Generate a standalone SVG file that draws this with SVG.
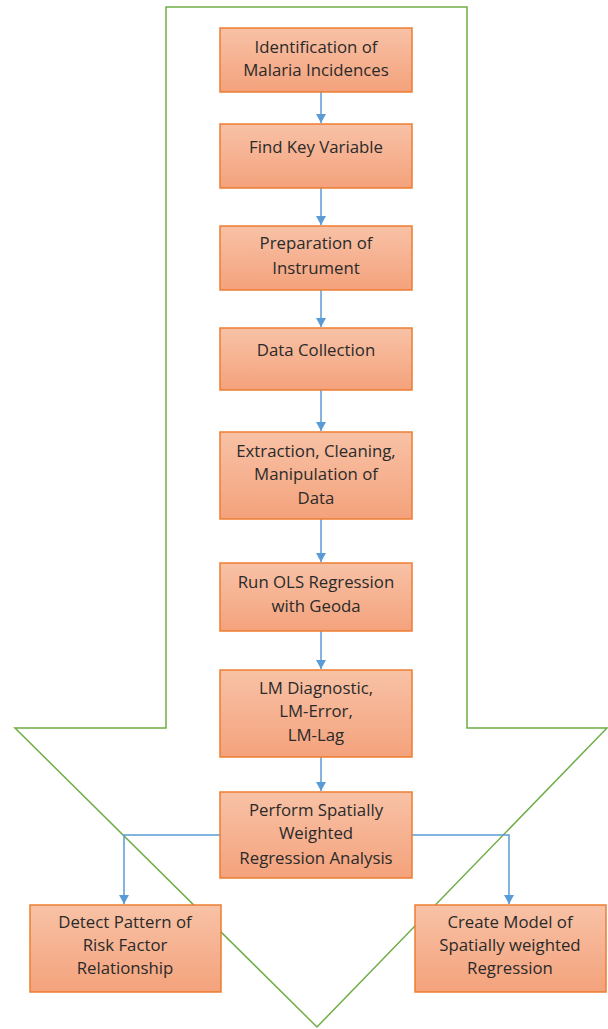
<svg xmlns="http://www.w3.org/2000/svg" width="608" height="1029" viewBox="0 0 608 1029">
<style>
.box{fill:url(#g);stroke:#ed7d31;stroke-width:1.5}
.t{font-family:"Open Sans","Liberation Sans",sans-serif;font-size:16.8px;fill:#2a2a2a;text-anchor:middle}
.c{fill:none;stroke:#5b9bd5;stroke-width:1.5}
</style>
<defs>
<linearGradient id="g" x1="0" y1="0" x2="0" y2="1">
<stop offset="0" stop-color="#f8c2a6"/>
<stop offset="1" stop-color="#f4a27c"/>
</linearGradient>
<marker id="m" markerWidth="10" markerHeight="9" refX="5" refY="9" orient="0" markerUnits="userSpaceOnUse">
<path d="M0,0 L10,0 L5,9 Z" fill="#5b9bd5"/>
</marker>
</defs>
<polygon id="bigarrow" points="166,7 467,7 467,728 607,728 317,1027 15,728 166,728" fill="none" stroke="#70ad47" stroke-width="1.5"/>
<g id="connectors">
<line class="c" x1="321" y1="92" x2="321" y2="123" marker-end="url(#m)"/>
<line class="c" x1="321" y1="188" x2="321" y2="225" marker-end="url(#m)"/>
<line class="c" x1="321" y1="290" x2="321" y2="327" marker-end="url(#m)"/>
<line class="c" x1="321" y1="390" x2="321" y2="431" marker-end="url(#m)"/>
<line class="c" x1="321" y1="519" x2="321" y2="562" marker-end="url(#m)"/>
<line class="c" x1="321" y1="631" x2="321" y2="669" marker-end="url(#m)"/>
<line class="c" x1="321" y1="757" x2="321" y2="791" marker-end="url(#m)"/>
<polyline class="c" points="221,835 124,835 124,904" marker-end="url(#m)"/>
<polyline class="c" points="412,835 509,835 509,904" marker-end="url(#m)"/>
</g>
<g id="n1"><rect class="box" x="220" y="28" width="192" height="64"/><text class="t" x="316" y="53">Identification of</text><text class="t" x="316" y="76">Malaria Incidences</text></g>
<g id="n2"><rect class="box" x="220" y="124" width="192" height="64"/><text class="t" x="316" y="153">Find Key Variable</text></g>
<g id="n3"><rect class="box" x="220" y="226" width="192" height="64"/><text class="t" x="316" y="249">Preparation of</text><text class="t" x="316" y="274">Instrument</text></g>
<g id="n4"><rect class="box" x="220" y="328" width="192" height="62"/><text class="t" x="316" y="356">Data Collection</text></g>
<g id="n5"><rect class="box" x="220" y="432" width="192" height="87"/><text class="t" x="316" y="457">Extraction, Cleaning,</text><text class="t" x="316" y="480">Manipulation of</text><text class="t" x="316" y="504">Data</text></g>
<g id="n6"><rect class="box" x="220" y="563" width="192" height="68"/><text class="t" x="316" y="588">Run OLS Regression</text><text class="t" x="316" y="612">with Geoda</text></g>
<g id="n7"><rect class="box" x="220" y="670" width="192" height="87"/><text class="t" x="316" y="694">LM Diagnostic,</text><text class="t" x="316" y="717">LM-Error,</text><text class="t" x="316" y="741">LM-Lag</text></g>
<g id="n8"><rect class="box" x="220" y="792" width="192" height="86"/><text class="t" x="316" y="816">Perform Spatially</text><text class="t" x="316" y="839">Weighted</text><text class="t" x="316" y="864">Regression Analysis</text></g>
<g id="n9"><rect class="box" x="30" y="905" width="191" height="87"/><text class="t" x="125" y="928">Detect Pattern of</text><text class="t" x="125" y="951">Risk Factor</text><text class="t" x="125" y="974">Relationship</text></g>
<g id="n10"><rect class="box" x="415" y="905" width="191" height="87"/><text class="t" x="510" y="928">Create Model of</text><text class="t" x="510" y="951">Spatially weighted</text><text class="t" x="510" y="974">Regression</text></g>
</svg>
